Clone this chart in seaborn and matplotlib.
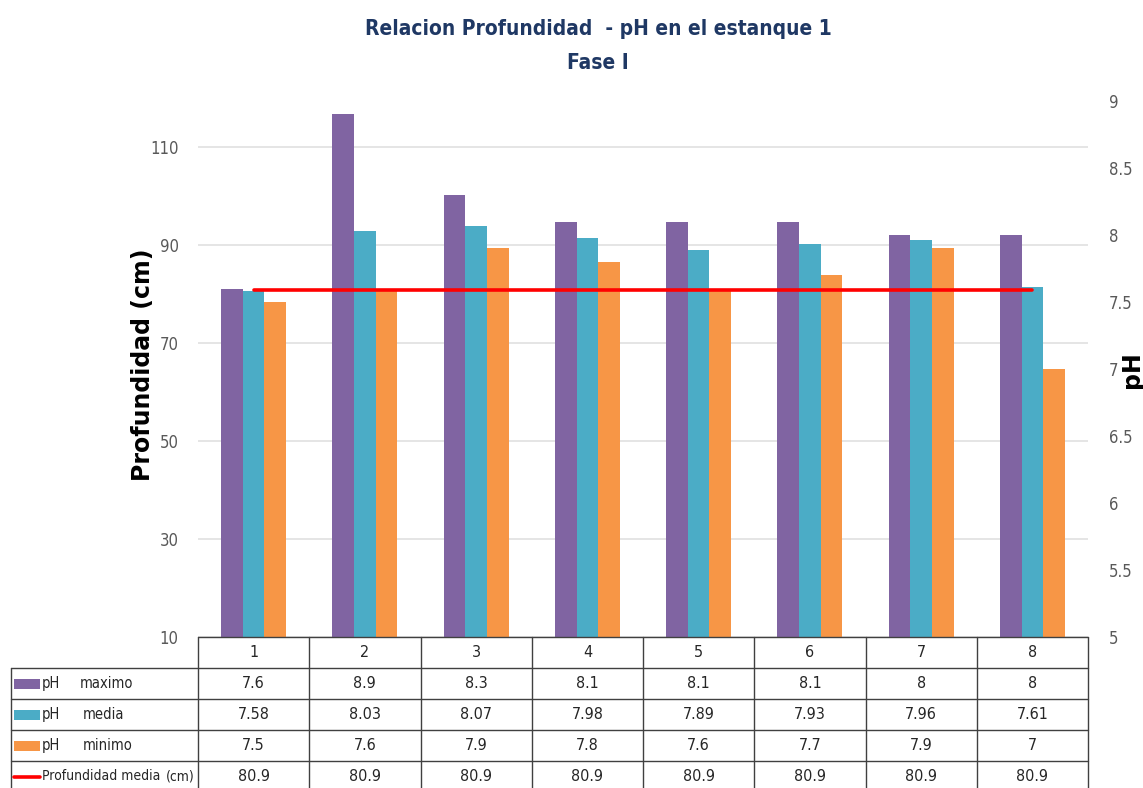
import numpy as np
import pandas as pd
import matplotlib
matplotlib.use("Agg")
import matplotlib.pyplot as plt
import seaborn as sns
from matplotlib.transforms import blended_transform_factory
from matplotlib.lines import Line2D
from matplotlib.patches import Rectangle

# ---- data ----
categorias = ["1", "2", "3", "4", "5", "6", "7", "8"]
ph_maximo = [7.6, 8.9, 8.3, 8.1, 8.1, 8.1, 8.0, 8.0]
ph_media = [7.58, 8.03, 8.07, 7.98, 7.89, 7.93, 7.96, 7.61]
ph_minimo = [7.5, 7.6, 7.9, 7.8, 7.6, 7.7, 7.9, 7.0]
profundidad_media = [80.9, 80.9, 80.9, 80.9, 80.9, 80.9, 80.9, 80.9]
series_nombres = ["maximo", "media", "minimo"]
depth_ticks = [10, 30, 50, 70, 90, 110]
ph_ticks = [5, 5.5, 6, 6.5, 7, 7.5, 8, 8.5, 9]

colores = ["#8064A2", "#4BACC6", "#F79646"]
rojo = "#FF0000"
NARROW = dict(family="DejaVu Sans", stretch="condensed")

sns.set_theme(style="white")
plt.rcParams["font.family"] = ["DejaVu Sans"]

W, H = 1143, 788
fig = plt.figure(figsize=(W / 100, H / 100), dpi=100)

def fx(px):
    return px / W

def fy(py):
    return 1 - py / H

left, right, top, bottom = 198, 1088, 101, 637
ax_depth = fig.add_axes([fx(left), fy(bottom), fx(right - left), fy(top) - fy(bottom)])
ax_ph = ax_depth.twinx()
ax_line = ax_depth.twinx()

df = pd.DataFrame({
    "cat": np.tile(categorias, 3),
    "serie": np.repeat(series_nombres, len(categorias)),
    "ph": ph_maximo + ph_media + ph_minimo,
})

# bars on the pH scale
sns.barplot(data=df, x="cat", y="ph", hue="serie", hue_order=series_nombres,
            palette=colores, width=0.585, gap=0, ax=ax_ph, legend=False,
            saturation=1, edgecolor="none")

# mean depth line on the depth scale
xpos = np.arange(len(categorias))
sns.lineplot(x=xpos, y=profundidad_media, ax=ax_line, color=rojo, lw=2.6)

for a in (ax_depth, ax_ph, ax_line):
    a.set_xlim(-0.5, len(categorias) - 0.5)
    for s in a.spines.values():
        s.set_visible(False)
    a.set_xlabel("")
    a.set_ylabel("")
    a.tick_params(axis="x", bottom=False, labelbottom=False)

ax_depth.set_ylim(10, 119.4)
ax_line.set_ylim(10, 119.4)
ax_ph.set_ylim(5, 9)

ax_depth.set_yticks(depth_ticks)
ax_depth.set_yticklabels([f"{t:g}" for t in depth_ticks], fontsize=12,
                         color="#595959", **NARROW)
ax_depth.tick_params(axis="y", left=False, pad=8)
ax_depth.yaxis.grid(True, color="#E3E3E3", lw=1.3)
ax_depth.xaxis.grid(False)

ax_ph.set_yticks(ph_ticks)
ax_ph.set_yticklabels([f"{t:g}" for t in ph_ticks], fontsize=12,
                      color="#595959", **NARROW)
ax_ph.tick_params(axis="y", right=False, pad=9)
ax_ph.grid(False)

ax_line.set_yticks([])
ax_line.grid(False)

ax_depth.set_zorder(0)
ax_ph.set_zorder(1)
ax_line.set_zorder(2)
ax_ph.patch.set_visible(False)
ax_line.patch.set_visible(False)

# axis titles
fig.text(fx(143), fy(365), "Profundidad (cm)", rotation=90, ha="center", va="center",
         fontsize=17, fontweight="bold", color="black")
fig.text(fx(1132), fy(370), "pH", rotation=90, ha="center", va="center",
         fontsize=17, fontweight="bold", color="black")

# chart title
titulo_color = "#1F3864"
fig.text(fx(598), fy(29), "Relacion Profundidad  - pH en el estanque 1", ha="center",
         va="center", fontsize=15, fontweight="bold", color=titulo_color, **NARROW)
fig.text(fx(598), fy(63), "Fase I", ha="center", va="center",
         fontsize=15, fontweight="bold", color=titulo_color, **NARROW)

# ---- data table under the plot ----
tr = blended_transform_factory(ax_depth.transData, fig.transFigure)
line_kw = dict(color="#404040", lw=1.0)
row_edges = [637, 668, 699, 730, 761, 792]
n = len(categorias)
x0, x1 = -0.5, n - 0.5

# horizontal borders
fig.add_artist(Line2D([x0, x1], [fy(row_edges[0])] * 2, transform=tr, **line_kw))
for y in row_edges[1:]:
    fig.add_artist(Line2D([fx(11), fx(right)], [fy(y)] * 2, transform=fig.transFigure, **line_kw))
# vertical borders
for k in range(n + 1):
    fig.add_artist(Line2D([k - 0.5, k - 0.5], [fy(row_edges[0]), fy(row_edges[-1])],
                          transform=tr, **line_kw))
fig.add_artist(Line2D([fx(11)] * 2, [fy(row_edges[1]), fy(row_edges[-1])],
                      transform=fig.transFigure, **line_kw))

centres = [(row_edges[i] + row_edges[i + 1]) / 2 for i in range(len(row_edges) - 1)]
cell_kw = dict(ha="center", va="center", fontsize=11.5, color="#262626", **NARROW)

for k, c in enumerate(categorias):
    fig.text(k, fy(centres[0]), c, transform=tr, **cell_kw)

filas = [ph_maximo, ph_media, ph_minimo, profundidad_media]
for r, valores in enumerate(filas):
    for k, v in enumerate(valores):
        fig.text(k, fy(centres[r + 1]), f"{v:g}", transform=tr, **cell_kw)

lab_kw = dict(ha="left", va="center", fontsize=10.5, color="#262626", **NARROW)
for r, (nombre, col) in enumerate(zip(series_nombres, colores)):
    yc = centres[r + 1]
    fig.add_artist(Rectangle((fx(14), fy(yc + 5)), fx(26), fy(yc - 5) - fy(yc + 5),
                             transform=fig.transFigure, color=col, lw=0))
    fig.text(fx(42), fy(yc), "pH", **lab_kw)
    fig.text(fx(80 if r == 0 else 83), fy(yc), nombre, **lab_kw)

yc = centres[4]
fig.add_artist(Line2D([fx(14), fx(40)], [fy(yc)] * 2, transform=fig.transFigure,
                      color=rojo, lw=2.6))
fig.text(fx(42), fy(yc), "Profundidad media", ha="left", va="center", fontsize=10,
         color="#262626", **NARROW)
fig.text(fx(195), fy(yc), "(cm)", ha="right", va="center", fontsize=10,
         color="#262626", **NARROW)

fig.savefig("out.png", dpi=100)
